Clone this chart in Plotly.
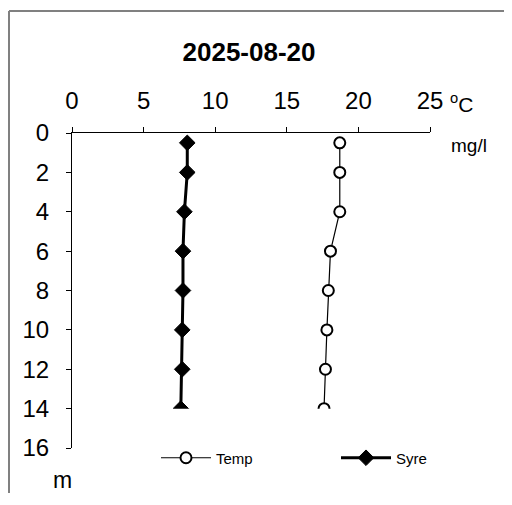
import plotly.graph_objects as go

depth = [0.5, 2, 4, 6, 8, 10, 12, 14]
temp = [18.7, 18.7, 18.7, 18.05, 17.9, 17.8, 17.7, 17.6]
syre = [8.05, 8.05, 7.85, 7.75, 7.75, 7.7, 7.7, 7.6]
x_ticks = [0, 5, 10, 15, 20, 25]
y_ticks = [0, 2, 4, 6, 8, 10, 12, 14, 16]
title = "2025-08-20"

FONT = "Liberation Sans, Arial, sans-serif"

# figure is offset by the page's 8px body margin
W, H = 496, 485
L, R, T, B = 64, 422, 125, 440          # plot area in figure pixels
PW, PH = R - L, B - T


def px(xp):
    return (xp - L) / PW


def py(yp):
    return (B - yp) / PH


fig = go.Figure()
fig.add_trace(go.Scatter(
    x=temp, y=depth, name="Temp", mode="lines+markers",
    line=dict(color="black", width=1.2),
    marker=dict(symbol="circle", size=11, color="white",
                line=dict(color="black", width=2)),
    cliponaxis=False, legend="legend",
))
fig.add_trace(go.Scatter(
    x=syre, y=depth, name="Syre", mode="lines+markers",
    line=dict(color="black", width=3),
    marker=dict(symbol="diamond", size=12, color="black",
                line=dict(color="black", width=1)),
    cliponaxis=False, legend="legend2",
))

legend_common = dict(orientation="h", yanchor="middle", y=py(450),
                     xanchor="left", itemwidth=50,
                     font=dict(size=15, family=FONT),
                     bgcolor="rgba(0,0,0,0)", borderwidth=0)

fig.update_layout(
    width=W, height=H,
    margin=dict(l=L, r=W - R, t=T, b=H - B),
    paper_bgcolor="white", plot_bgcolor="white",
    font=dict(family=FONT, color="black", size=24),
    title=dict(text=f"<b>{title}</b>", x=px(241), xref="paper", xanchor="center",
               y=1 - 44 / H, yref="container", yanchor="middle",
               font=dict(size=26, family=FONT, color="black")),
    xaxis=dict(range=[0, 25], side="top", tickvals=x_ticks,
               ticks="outside", ticklen=5, tickcolor="black",
               showline=True, linecolor="black", linewidth=1,
               showgrid=False, zeroline=False, ticklabelstandoff=8,
               tickfont=dict(size=24)),
    yaxis=dict(range=[16, 0], tickvals=y_ticks,
               ticks="outside", ticklen=5, tickcolor="black",
               showline=True, linecolor="black", linewidth=1,
               showgrid=False, zeroline=False, ticklabelstandoff=12,
               tickfont=dict(size=24)),
    showlegend=True,
    legend=dict(x=px(148), **legend_common),
    legend2=dict(x=px(328), **legend_common),
    shapes=[
        # clip mask below last depth like the original
        dict(type="rect", xref="x", yref="y", x0=0.4, x1=25, y0=14, y1=16.3,
             fillcolor="white", line=dict(width=0), layer="above"),
        # chart border (top and left)
        dict(type="line", xref="paper", yref="paper",
             x0=px(1), x1=px(W + 10), y0=py(3), y1=py(3),
             line=dict(color="#808080", width=2)),
        dict(type="line", xref="paper", yref="paper",
             x0=px(1), x1=px(1), y0=py(3), y1=py(H + 10),
             line=dict(color="#808080", width=2)),
    ],
    annotations=[
        dict(text="<sup>o</sup>C", xref="paper", yref="paper",
             x=px(440), y=py(95), xanchor="left",
             yanchor="middle", showarrow=False, font=dict(size=21)),
        dict(text="mg/l", xref="paper", yref="paper",
             x=px(441), y=py(137), xanchor="left",
             yanchor="middle", showarrow=False, font=dict(size=19)),
        dict(text="m", xref="paper", yref="paper",
             x=px(54), y=py(472), xanchor="center",
             yanchor="middle", showarrow=False, font=dict(size=23)),
    ],
)

fig.write_html("out.html")
